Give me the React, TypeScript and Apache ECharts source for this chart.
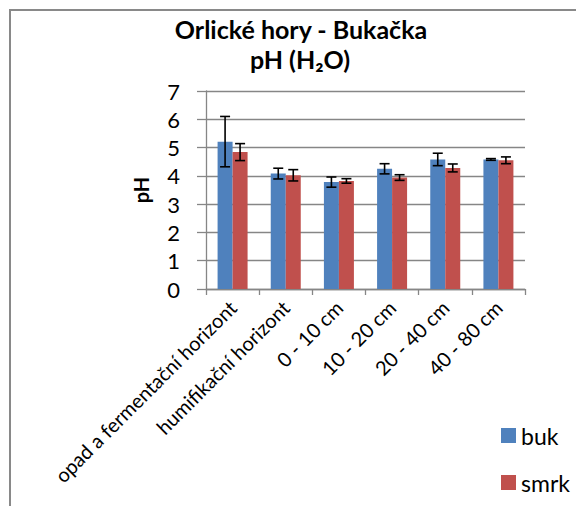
import React, { useEffect, useRef } from "react";
import * as echarts from "echarts";

const categories = [
  "opad a fermentační horizont",
  "humifikační horizont",
  "0 - 10 cm",
  "10 - 20 cm",
  "20 - 40 cm",
  "40 - 80 cm",
];
const bukValues = [5.21, 4.08, 3.78, 4.25, 4.58, 4.58];
const bukErrors = [0.89, 0.19, 0.18, 0.18, 0.22, 0.03];
const smrkValues = [4.84, 4.02, 3.82, 3.94, 4.28, 4.55];
const smrkErrors = [0.3, 0.2, 0.08, 0.1, 0.14, 0.12];
const yTicks = [0, 1, 2, 3, 4, 5, 6, 7];

const FONT = "Lato, 'Open Sans', sans-serif";
const GRID_COLOR = "#868686";
const BAR_W = 15;

function errorSeries(name: string, values: number[], errors: number[], offset: number) {
  return {
    type: "custom",
    name: name + " err",
    z: 10,
    silent: true,
    data: values.map((v, i) => [i, v, errors[i]]),
    encode: { x: 0, y: 1 },
    renderItem: (_params: any, api: any) => {
      const idx = api.value(0);
      const v = api.value(1);
      const e = api.value(2);
      const top = api.coord([idx, v + e]);
      const bot = api.coord([idx, v - e]);
      const x = top[0] + offset;
      const cap = 5;
      const style = { stroke: "#000", lineWidth: 1.6 };
      return {
        type: "group",
        children: [
          { type: "line", shape: { x1: x, y1: top[1], x2: x, y2: bot[1] }, style },
          { type: "line", shape: { x1: x - cap, y1: top[1], x2: x + cap, y2: top[1] }, style },
          { type: "line", shape: { x1: x - cap, y1: bot[1], x2: x + cap, y2: bot[1] }, style },
        ],
      };
    },
  };
}

export default function App() {
  const ref = useRef<HTMLDivElement>(null);
  useEffect(() => {
    if (!ref.current) return;
    const chart = echarts.init(ref.current, undefined, { renderer: "svg" });
    chart.setOption({
      animation: false,
      backgroundColor: "#fff",
      textStyle: { fontFamily: FONT },
      title: [
        {
          text: "Orlické hory - Bukačka",
          left: 301,
          top: 16,
          padding: 0,
          textAlign: "center",
          textStyle: { fontFamily: FONT, fontSize: 25, fontWeight: "bold", color: "#000" },
        },
        {
          text: "pH (H₂O)",
          left: 300,
          top: 46,
          padding: 0,
          textAlign: "center",
          textStyle: { fontFamily: FONT, fontSize: 25, fontWeight: "bold", color: "#000" },
        },
      ],
      graphic: [
        {
          type: "rect",
          shape: { x: 10, y: 10, width: 700, height: 700 },
          style: { fill: "none", stroke: "#898989", lineWidth: 2 },
          silent: true,
          z: -1,
        },
      ],
      legend: {
        orient: "vertical",
        left: 501,
        top: 424,
        height: 80,
        padding: 0,
        itemWidth: 15,
        itemHeight: 15,
        itemGap: 24,
        icon: "rect",
        data: ["buk", "smrk"],
        textStyle: { fontFamily: FONT, fontSize: 23, color: "#000", padding: [0, 0, 0, 0] },
      },
      grid: { left: 206, right: 51, top: 91, bottom: 217, containLabel: false },
      xAxis: {
        type: "category",
        data: categories,
        axisLine: { show: true, lineStyle: { color: GRID_COLOR, width: 1.3 } },
        axisTick: { show: true, alignWithLabel: false, length: 6, lineStyle: { color: GRID_COLOR, width: 1.3 } },
        axisLabel: {
          interval: 0,
          rotate: 45,
          margin: 15,
          fontFamily: FONT,
          fontSize: 20,
          color: "#000",
        },
        splitLine: { show: false },
      },
      yAxis: {
        type: "value",
        min: yTicks[0],
        max: yTicks[yTicks.length - 1],
        interval: 1,
        name: "pH",
        nameLocation: "middle",
        nameRotate: 90,
        nameGap: 55,
        nameTextStyle: { fontFamily: FONT, fontSize: 20, fontWeight: "bold", color: "#000" },
        axisLine: { show: true, lineStyle: { color: GRID_COLOR, width: 1.3 } },
        axisTick: { show: true, inside: false, length: 9, lineStyle: { color: GRID_COLOR, width: 1.3 } },
        axisLabel: { margin: 26, fontFamily: FONT, fontSize: 22, color: "#000" },
        splitLine: { show: true, lineStyle: { color: GRID_COLOR, width: 1.3 } },
      },
      series: [
        {
          name: "buk",
          type: "bar",
          data: bukValues,
          barWidth: BAR_W,
          barGap: "0%",
          itemStyle: { color: "#4F81BD" },
        },
        {
          name: "smrk",
          type: "bar",
          data: smrkValues,
          barWidth: BAR_W,
          barGap: "0%",
          itemStyle: { color: "#C0504D" },
        },
        errorSeries("buk", bukValues, bukErrors, -BAR_W / 2),
        errorSeries("smrk", smrkValues, smrkErrors, BAR_W / 2),
      ],
    });
    return () => chart.dispose();
  }, []);
  return (
    <div
      ref={ref}
      style={{ position: "fixed", left: 0, top: 0, width: 576, height: 506 }}
    />
  );
}
